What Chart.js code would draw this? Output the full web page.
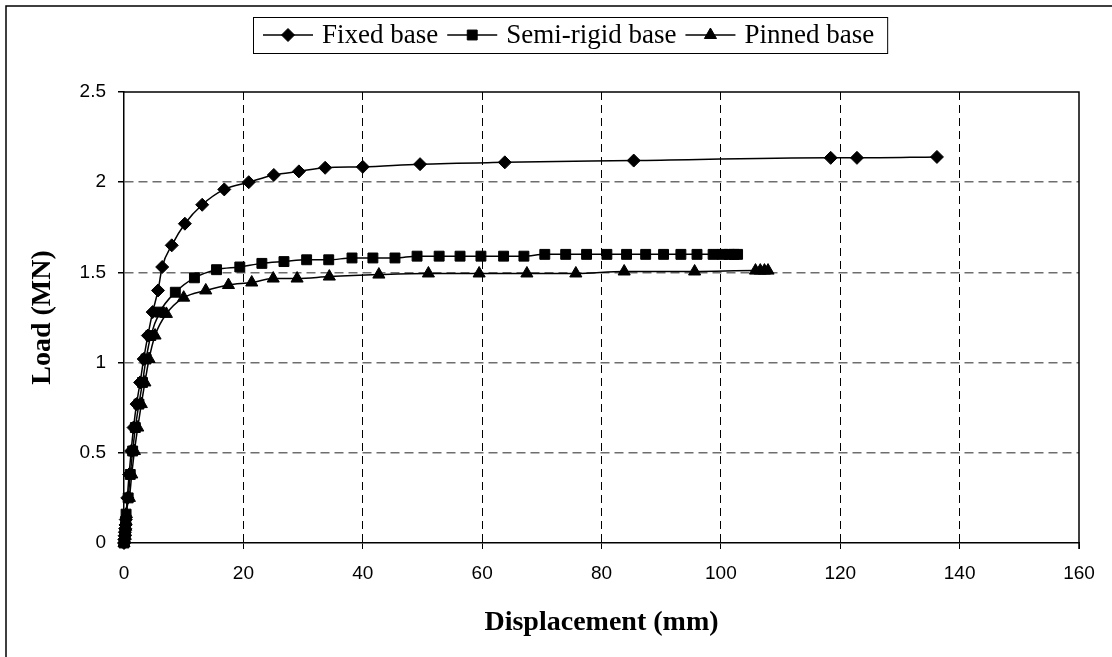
<!DOCTYPE html>
<html>
<head>
<meta charset="utf-8">
<script src="https://cdn.jsdelivr.net/npm/chart.js@4/dist/chart.umd.min.js"></script>
<style>
  html, body { margin: 0; padding: 0; background: #fff; }
  #wrap { width: 1112px; height: 657px; }
</style>
</head>
<body>
<div id="wrap"><canvas id="c" width="1112" height="657"></canvas></div>
<script>
// Load–displacement curves for three column base conditions
const fixedX = [0, 0.05, 0.1, 0.15, 0.2, 0.25, 0.3, 0.55, 0.85, 1.2, 1.6, 2.1, 2.7, 3.3, 4.0, 4.8,
                5.7, 6.4, 8.0, 10.2, 13.1, 16.8, 20.9, 25.1, 29.3, 33.7, 40.0, 49.6, 63.8, 85.4, 118.4, 122.8, 136.2];
const fixedY = [0, 0.02, 0.04, 0.06, 0.08, 0.10, 0.13, 0.25, 0.38, 0.51, 0.64, 0.77, 0.89, 1.02, 1.15, 1.28,
                1.40, 1.53, 1.65, 1.77, 1.875, 1.96, 2.00, 2.04, 2.06, 2.08, 2.085, 2.10, 2.11, 2.12, 2.135, 2.135, 2.14];

const semiX = [0, 0.1, 0.15, 0.2, 0.25, 0.3, 0.35, 0.7, 1.05, 1.45, 1.9, 2.5, 3.1, 3.7, 4.5, 6.0,
               8.6, 11.8, 15.5, 19.4, 23.1, 26.8, 30.6, 34.3, 38.2, 41.7, 45.4, 49.1, 52.8, 56.3, 59.8,
               63.6, 67.0, 70.5, 74.0, 77.5, 80.9, 84.2, 87.4, 90.4, 93.3, 96.0, 98.7, 100.3, 101.4, 102.2, 102.8];
const semiY = [0, 0.02, 0.04, 0.06, 0.09, 0.12, 0.16, 0.25, 0.38, 0.51, 0.64, 0.77, 0.89, 1.02, 1.15, 1.28,
               1.39, 1.47, 1.515, 1.53, 1.55, 1.56, 1.57, 1.57, 1.58, 1.58, 1.58, 1.59, 1.59, 1.59, 1.59,
               1.59, 1.59, 1.60, 1.60, 1.60, 1.60, 1.60, 1.60, 1.60, 1.60, 1.60, 1.60, 1.60, 1.60, 1.60, 1.60];

const pinX = [0, 0.15, 0.2, 0.25, 0.3, 0.35, 0.4, 0.9, 1.3, 1.75, 2.3, 2.9, 3.5, 4.2, 5.2, 7.1,
              10.0, 13.7, 17.5, 21.4, 25.0, 29.0, 34.4, 42.7, 51.0, 59.5, 67.5, 75.7, 83.8, 95.6,
              105.8, 106.6, 107.3, 107.9];
const pinY = [0, 0.02, 0.04, 0.06, 0.09, 0.12, 0.16, 0.25, 0.38, 0.51, 0.64, 0.77, 0.89, 1.02, 1.15, 1.27,
              1.36, 1.40, 1.43, 1.444, 1.466, 1.466, 1.477, 1.488, 1.494, 1.494, 1.494, 1.494, 1.505, 1.505,
              1.51, 1.51, 1.51, 1.51];

const seriesNames = ['Fixed base', 'Semi-rigid base', 'Pinned base'];
const xTicks = [0, 20, 40, 60, 80, 100, 120, 140, 160];
const xTickLabels = ['0', '20', '40', '60', '80', '100', '120', '140', '160'];
const yTicks = [0, 0.5, 1, 1.5, 2, 2.5];
const yTickLabels = ['0', '0.5', '1', '1.5', '2', '2.5'];
const xTitle = 'Displacement (mm)';
const yTitle = 'Load (MN)';

const toPoints = (xs, ys) => xs.map((x, i) => ({ x: x, y: ys[i] }));

function series(label, xs, ys, style, radius) {
  return {
    label: label,
    data: toPoints(xs, ys),
    showLine: true,
    borderColor: '#000',
    borderWidth: 1.5,
    backgroundColor: '#000',
    pointBackgroundColor: '#000',
    pointBorderColor: '#000',
    pointBorderWidth: 1,
    pointStyle: style,
    pointRadius: radius,
    cubicInterpolationMode: 'monotone',
    clip: false
  };
}

// Page frame, plot-area outline and the boxed legend
const decorations = {
  id: 'decorations',
  beforeDraw(chart) {
    const ctx = chart.ctx;
    ctx.save();
    ctx.fillStyle = '#fff';
    ctx.fillRect(0, 0, chart.width, chart.height);
    ctx.strokeStyle = '#000';
    ctx.lineWidth = 1.5;
    ctx.beginPath();
    ctx.moveTo(6, chart.height + 5);
    ctx.lineTo(6, 6);
    ctx.lineTo(chart.width + 5, 6);
    ctx.stroke();
    ctx.restore();
  },
  afterDatasetsDraw(chart) {
    const ctx = chart.ctx;
    const a = chart.chartArea;
    ctx.save();
    ctx.strokeStyle = '#000';
    ctx.lineWidth = 1.5;
    ctx.beginPath();
    ctx.moveTo(a.left, a.top);
    ctx.lineTo(a.right, a.top);
    ctx.lineTo(a.right, a.bottom + 6);
    ctx.stroke();
    ctx.restore();
  },
  afterDraw(chart) {
    const ctx = chart.ctx;
    const boxX = 253, boxY = 17, boxH = 36;
    const lineLen = 50, gap = 9;
    const cy = boxY + boxH / 2;
    ctx.save();
    ctx.font = '27px "Liberation Serif", "Times New Roman", serif';
    ctx.textBaseline = 'middle';
    let x = boxX + 10;
    chart.data.datasets.forEach(ds => {
      ctx.strokeStyle = '#000';
      ctx.fillStyle = '#000';
      ctx.lineWidth = 1.5;
      ctx.beginPath();
      ctx.moveTo(x, cy);
      ctx.lineTo(x + lineLen, cy);
      ctx.stroke();
      ctx.lineWidth = 1;
      Chart.helpers.drawPoint(ctx, { pointStyle: ds.pointStyle, radius: ds.pointRadius, borderWidth: 1, rotation: 0 }, x + lineLen / 2, cy);
      x += lineLen + gap;
      ctx.fillStyle = '#000';
      ctx.fillText(ds.label, x, cy + 1);
      x += ctx.measureText(ds.label).width + gap;
    });
    ctx.strokeStyle = '#000';
    ctx.lineWidth = 1;
    ctx.strokeRect(boxX + 0.5, boxY + 0.5, x - boxX + 4, boxH);
    ctx.restore();
  }
};

const tickFont = { family: '"Liberation Sans", Arial, sans-serif', size: 19 };
const titleFont = { family: '"Liberation Serif", "Times New Roman", serif', size: 28, weight: 'bold' };

new Chart(document.getElementById('c'), {
  type: 'scatter',
  data: {
    datasets: [
      series(seriesNames[0], fixedX, fixedY, 'rectRot', 6.5),
      series(seriesNames[1], semiX, semiY, 'rect', 7),
      series(seriesNames[2], pinX, pinY, 'triangle', 7)
    ]
  },
  options: {
    responsive: false,
    animation: false,
    devicePixelRatio: 1,
    layout: { padding: { top: 92, right: 33, left: 0, bottom: 0 } },
    plugins: {
      legend: { display: false },
      tooltip: { enabled: false }
    },
    scales: {
      x: {
        type: 'linear',
        min: 0,
        max: 160,
        afterBuildTicks: s => { s.ticks = xTicks.map(v => ({ value: v })); },
        afterFit: s => { s.height = 114; },
        grid: {
          color: c => (c.tick && (c.tick.value === 0 || c.tick.value === 160)) ? 'rgba(0,0,0,0)' : '#000',
          tickColor: '#000',
          tickLength: 6,
          lineWidth: 1
        },
        border: { display: true, color: '#000', width: 1.5, dash: [8, 5] },
        ticks: {
          color: '#000', font: tickFont, padding: 13, maxRotation: 0, autoSkip: false,
          callback: (v, i) => xTickLabels[i]
        },
        title: { display: true, text: xTitle, color: '#000', font: titleFont, padding: { top: 0, bottom: 17 } }
      },
      y: {
        type: 'linear',
        min: 0,
        max: 2.5,
        afterBuildTicks: s => { s.ticks = yTicks.map(v => ({ value: v })); },
        afterFit: s => { s.width = 124; },
        grid: {
          color: c => (c.tick && (c.tick.value === 0 || c.tick.value === 2.5)) ? 'rgba(0,0,0,0)' : '#6e6e6e',
          tickColor: '#000',
          tickLength: 6,
          lineWidth: 1.5
        },
        border: { display: true, color: '#000', width: 1.5, dash: [9, 5] },
        ticks: {
          color: '#000', font: tickFont, padding: 12,
          callback: (v, i) => yTickLabels[i]
        },
        title: { display: true, text: yTitle, color: '#000', font: titleFont, padding: { top: 26, bottom: 0 } }
      }
    }
  },
  plugins: [decorations]
});
</script>
</body>
</html>
